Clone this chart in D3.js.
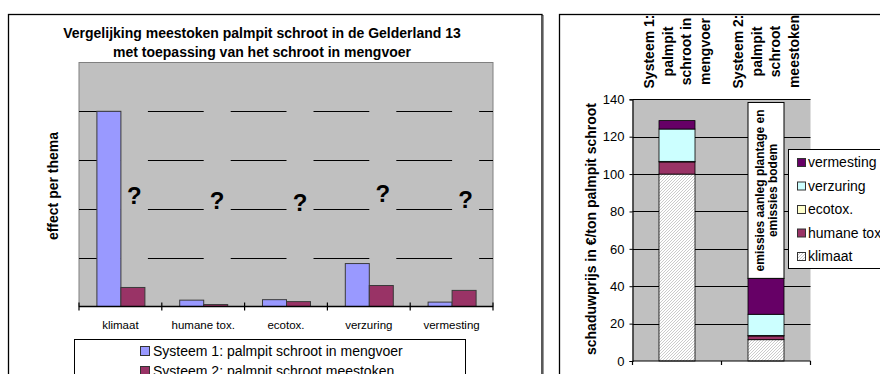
<!DOCTYPE html>
<html>
<head>
<meta charset="utf-8">
<script src="https://cdn.jsdelivr.net/npm/d3@7"></script>
<style>
  html, body { margin: 0; padding: 0; background: #fff; }
  svg { display: block; font-family: "Liberation Sans", Arial, sans-serif; }
</style>
</head>
<body>
<svg id="chart" width="880" height="374"></svg>
<script>
// ---- Left chart: effect per theme, two systems ----
const themes = ["klimaat", "humane tox.", "ecotox.", "verzuring", "vermesting"];
const systeem1 = [4.0, 0.13, 0.14, 0.88, 0.09];
const systeem2 = [0.39, 0.04, 0.10, 0.43, 0.33];
const questionLevels = [2.28, 2.17, 2.13, 2.32, 2.20];
const effectGrid = [1, 2, 3, 4];
const leftTitle = ["Vergelijking meestoken palmpit schroot in de Gelderland 13",
                   "met toepassing van het schroot in mengvoer"];
const leftLegend = ["Systeem 1: palmpit schroot in mengvoer",
                    "Systeem 2: palmpit schroot meestoken"];

// ---- Right chart: shadow price per ton, stacked by theme ----
const systems = ["Systeem 1", "Systeem 2"];
const systemLabels = [["Systeem 1:", "palmpit", "schroot in", "mengvoer"],
                      ["Systeem 2:", "palmpit", "schroot", "meestoken"]];
const stackKeys = ["klimaat", "humane tox", "ecotox.", "verzuring", "vermesting"];
const klimaat    = [100, 11.4];
const humaneTox  = [6.5, 2.0];
const ecotox     = [0.3, 0.3];
const verzuring  = [17.3, 11.3];
const vermesting = [4.5, 19.2];
const priceTicks = [0, 20, 40, 60, 80, 100, 120, 140];
const noteLines = ["emissies  aanleg plantage en", "emissies bodem"];
const noteTop = 138.3;

const svg = d3.select("#chart");
const defs = svg.append("defs");
const hatch = defs.append("pattern")
  .attr("id", "hatch").attr("patternUnits", "userSpaceOnUse")
  .attr("width", 3).attr("height", 3);
hatch.append("rect").attr("width", 3).attr("height", 3).attr("fill", "#ffffff");
hatch.append("path").attr("d", "M-1,1 l2,-2 M0,3 l3,-3 M2,4 l2,-2")
  .attr("stroke", "#b4b4b4").attr("stroke-width", 0.7);

const PLOT_BG = "#c0c0c0";

// panel frames
svg.append("rect").attr("x", 9.5).attr("y", 15.5).attr("width", 534).attr("height", 400)
  .attr("fill", "none").attr("stroke", "#9a9a9a").attr("stroke-width", 1);
svg.append("rect").attr("x", 8.5).attr("y", 14.5).attr("width", 533.5).attr("height", 400)
  .attr("fill", "#fff").attr("stroke", "#000").attr("stroke-width", 1.3);
svg.append("rect").attr("x", 559.5).attr("y", 14.5).attr("width", 400).attr("height", 400)
  .attr("fill", "#fff").attr("stroke", "#000").attr("stroke-width", 1.3);

// ================= LEFT CHART =================
const L = svg.append("g");
const xL = d3.scaleBand().domain(themes).range([79, 493]);
const yL = d3.scaleLinear().domain([0, 5]).range([306.5, 62.5]);
const barW = 24;

L.append("g").selectAll("text").data(leftTitle).join("text")
  .attr("x", 262).attr("y", (d, i) => 38 + i * 19)
  .attr("text-anchor", "middle").attr("font-size", 14).attr("font-weight", "bold")
  .text(d => d);

L.append("rect").attr("x", xL.range()[0]).attr("y", yL(5))
  .attr("width", xL.range()[1] - xL.range()[0]).attr("height", yL(0) - yL(5))
  .attr("fill", PLOT_BG).attr("stroke", "#808080").attr("stroke-width", 1);

// gridlines
L.append("g").selectAll("line").data(effectGrid).join("line")
  .attr("x1", xL.range()[0]).attr("x2", xL.range()[1])
  .attr("y1", d => Math.round(yL(d)) + 0.5).attr("y2", d => Math.round(yL(d)) + 0.5)
  .attr("stroke", "#000").attr("stroke-width", 1);

// grey label boxes over system-2 columns, each holding a question mark
const centre = t => xL(t) + xL.bandwidth() / 2;
L.append("g").selectAll("rect").data(themes).join("rect")
  .attr("x", d => centre(d) + 0.5).attr("y", yL(5) + 1)
  .attr("width", 27).attr("height", yL(0) - yL(5) - 2)
  .attr("fill", PLOT_BG);
L.append("g").selectAll("text").data(themes).join("text")
  .attr("x", d => centre(d) + 14).attr("y", (d, i) => yL(questionLevels[i]))
  .attr("dy", "0.36em").attr("text-anchor", "middle")
  .attr("font-size", 24).attr("font-weight", "bold").text("?");

// bars
L.append("g").selectAll("rect").data(themes).join("rect")
  .attr("x", d => centre(d) - barW + 0.5).attr("y", (d, i) => yL(systeem1[i]))
  .attr("width", barW).attr("height", (d, i) => yL(0) - yL(systeem1[i]))
  .attr("fill", "#9999ff").attr("stroke", "#3a3a3a").attr("stroke-width", 1);
L.append("g").selectAll("rect").data(themes).join("rect")
  .attr("x", d => centre(d) + 0.5).attr("y", (d, i) => yL(systeem2[i]))
  .attr("width", barW).attr("height", (d, i) => yL(0) - yL(systeem2[i]))
  .attr("fill", "#993366").attr("stroke", "#3a3a3a").attr("stroke-width", 1);

// category axis
const edges = themes.map(t => xL(t)).concat([xL.range()[1]]);
L.append("line").attr("x1", xL.range()[0]).attr("x2", xL.range()[1])
  .attr("y1", yL(0)).attr("y2", yL(0)).attr("stroke", "#000").attr("stroke-width", 1.5);
L.append("g").selectAll("line").data(edges).join("line")
  .attr("x1", d => d).attr("x2", d => d)
  .attr("y1", yL(0) - 4).attr("y2", yL(0) + 4).attr("stroke", "#000").attr("stroke-width", 1.2);
L.append("g").selectAll("text").data(themes).join("text")
  .attr("x", d => centre(d)).attr("y", 329)
  .attr("text-anchor", "middle").attr("font-size", 11.5).text(d => d);

L.append("text")
  .attr("transform", "translate(58,186) rotate(-90)")
  .attr("text-anchor", "middle").attr("font-size", 14).attr("font-weight", "bold")
  .text("effect per thema");

// legend
L.append("rect").attr("x", 74.5).attr("y", 339.5).attr("width", 391).attr("height", 60)
  .attr("fill", "#fff").attr("stroke", "#000").attr("stroke-width", 1);
const legL = L.append("g").selectAll("g").data(leftLegend).join("g")
  .attr("transform", (d, i) => `translate(140,${351 + i * 20})`);
legL.append("rect").attr("x", 0.5).attr("y", -4.5).attr("width", 9).attr("height", 9)
  .attr("fill", (d, i) => i === 0 ? "#9999ff" : "#993366").attr("stroke", "#333");
legL.append("text").attr("x", 13).attr("dy", "0.36em").attr("font-size", 14).text(d => d);

// ================= RIGHT CHART =================
const R = svg.append("g");
const xR = d3.scaleBand().domain(systems).range([632.5, 810.5]);
const yR = d3.scaleLinear().domain([0, 140]).range([361, 99.3]);
const stackW = 36;

R.append("rect").attr("x", xR.range()[0]).attr("y", yR(140))
  .attr("width", xR.range()[1] - xR.range()[0]).attr("height", yR(0) - yR(140))
  .attr("fill", PLOT_BG);
R.append("g").selectAll("line").data(priceTicks.filter(d => d > 0)).join("line")
  .attr("x1", xR.range()[0]).attr("x2", xR.range()[1])
  .attr("y1", d => Math.round(yR(d)) + 0.5).attr("y2", d => Math.round(yR(d)) + 0.5)
  .attr("stroke", "#000").attr("stroke-width", 1);

const rows = systems.map((s, i) => ({
  system: s,
  "klimaat": klimaat[i], "humane tox": humaneTox[i], "ecotox.": ecotox[i],
  "verzuring": verzuring[i], "vermesting": vermesting[i]
}));
const stacked = d3.stack().keys(stackKeys)(rows);
const fills = {
  "klimaat": "url(#hatch)", "humane tox": "#993366", "ecotox.": "#ffffcc",
  "verzuring": "#ccffff", "vermesting": "#660066"
};
R.append("g").selectAll("g").data(stacked).join("g")
  .attr("fill", d => fills[d.key])
  .selectAll("rect").data(d => d).join("rect")
  .attr("x", d => xR(d.data.system) + (xR.bandwidth() - stackW) / 2)
  .attr("y", d => yR(d[1]))
  .attr("width", stackW).attr("height", d => yR(d[0]) - yR(d[1]))
  .attr("stroke", "#000").attr("stroke-width", 0.8);

// white note box above the second stack
const top2 = d3.sum(stackKeys, k => rows[1][k]);
const noteX = xR(systems[1]) + (xR.bandwidth() - stackW) / 2;
R.append("rect").attr("x", noteX).attr("y", yR(noteTop))
  .attr("width", stackW).attr("height", yR(top2) - yR(noteTop))
  .attr("fill", "#fff").attr("stroke", "#000").attr("stroke-width", 1);
const noteCx = noteX + stackW / 2, noteCy = (yR(noteTop) + yR(top2)) / 2;
R.append("g").attr("transform", `translate(${noteCx},${noteCy}) rotate(-90)`)
  .selectAll("text").data(noteLines).join("text")
  .attr("y", (d, i) => (i - 0.5) * 13).attr("dy", "0.36em")
  .attr("text-anchor", "middle").attr("font-size", 12).attr("font-weight", "bold")
  .text(d => d);

// axes
const yAxisR = R.append("g").attr("transform", `translate(${xR.range()[0]},0)`)
  .call(d3.axisLeft(yR).tickValues(priceTicks).tickSize(3).tickPadding(5));
yAxisR.select(".domain").attr("stroke", "#000").attr("stroke-width", 1.2);
yAxisR.selectAll("text").attr("font-size", 13).attr("fill", "#000")
  .attr("font-family", "Liberation Sans, Arial, sans-serif");
const rEdges = systems.map(s => xR(s)).concat([xR.range()[1]]);
R.append("line").attr("x1", xR.range()[0]).attr("x2", xR.range()[1])
  .attr("y1", yR(0)).attr("y2", yR(0)).attr("stroke", "#000").attr("stroke-width", 1.2);
R.append("g").selectAll("line").data(rEdges).join("line")
  .attr("x1", d => d).attr("x2", d => d).attr("y1", yR(0)).attr("y2", yR(0) + 4)
  .attr("stroke", "#000").attr("stroke-width", 1.2);

// category labels set vertically above the plot
systems.forEach((s, i) => {
  const cx = xR(s) + xR.bandwidth() / 2;
  const lines = systemLabels[i];
  R.append("g").attr("transform", `translate(${cx},51.5) rotate(-90)`)
    .selectAll("text").data(lines).join("text")
    .attr("y", (d, j) => (j - (lines.length - 1) / 2) * 18.8)
    .attr("dy", "0.36em").attr("text-anchor", "middle")
    .attr("font-size", 14).attr("font-weight", "bold").text(d => d);
});

R.append("text")
  .attr("transform", `translate(596,229) rotate(-90)`)
  .attr("text-anchor", "middle").attr("font-size", 14).attr("font-weight", "bold")
  .text("schaduwprijs in €/ton palmpit schroot");

// legend, top entry is the top of the stack
const legendKeys = stackKeys.slice().reverse();
R.append("rect").attr("x", 788.5).attr("y", 149.5).attr("width", 120).attr("height", 119)
  .attr("fill", "#fff").attr("stroke", "#000").attr("stroke-width", 1);
const legR = R.append("g").selectAll("g").data(legendKeys).join("g")
  .attr("transform", (d, i) => `translate(797,${162 + i * 23.5})`);
legR.append("rect").attr("x", 0.5).attr("y", -3.5).attr("width", 8).attr("height", 8)
  .attr("fill", d => fills[d]).attr("stroke", "#333");
legR.append("text").attr("x", 11).attr("dy", "0.36em").attr("font-size", 14).text(d => d);
</script>
</body>
</html>
